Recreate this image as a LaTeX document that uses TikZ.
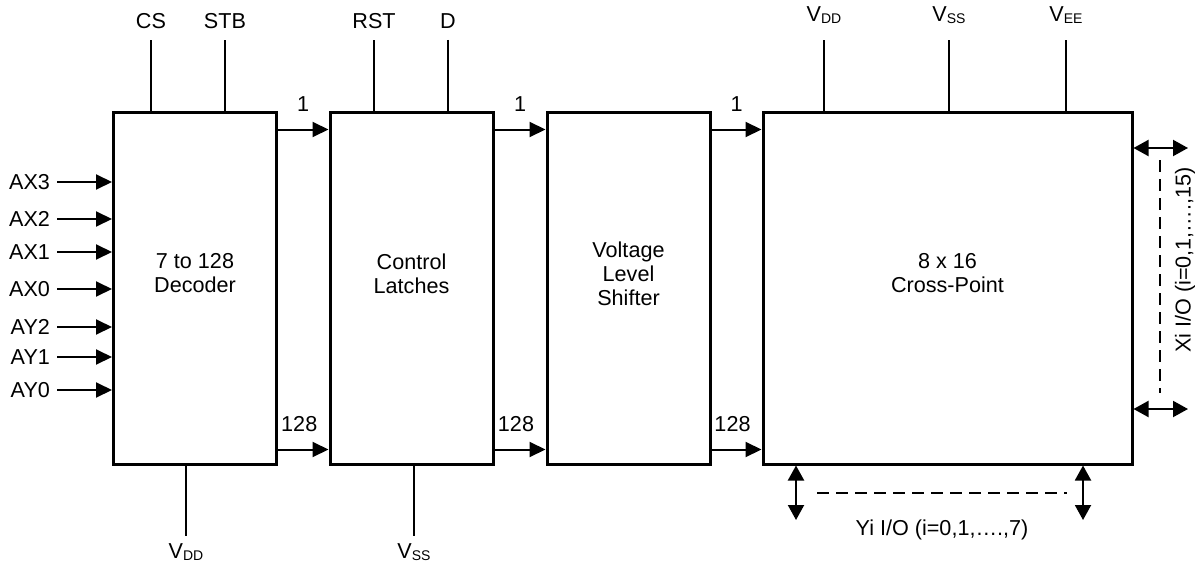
\documentclass[tikz,border=0pt]{standalone}
\usepackage{fontspec}
\setmainfont{Liberation Sans}
\usetikzlibrary{arrows.meta,positioning,calc}
\newcommand{\vpin}[1]{V\raisebox{-1pt}{\fontsize{7}{8}\selectfont #1}}

\begin{document}
\begin{tikzpicture}[x=0.5pt, y=-0.5pt, font=\fontsize{10.8}{12}\selectfont,
  block/.style={draw, line width=1.5pt, minimum width=81.5pt, minimum height=175.5pt},
  arrow/.style={-{Triangle[length=8pt,width=7.5pt]}, line width=1pt},
  biarrow/.style={{Triangle[length=7.5pt,width=8pt]}-{Triangle[length=7.5pt,width=8pt]}, line width=1pt},
  pin/.style={line width=1pt},
  bus/.style={dash pattern=on 6pt off 3.5pt, line width=1pt}]
\useasboundingbox (0,0) rectangle (1198,567);
% blocks
\node[block] (dec) at (195,288.5) {};
\node[block] (lat) at (411.5,288.5) {};
\node[block] (vls) at (628.5,288.5) {};
\node[block, minimum width=184.5pt] (xpt) at (947.5,288.5) {};
\node[align=center] (dectxt) at ([yshift=7.5pt]dec.center) {7 to 128\\Decoder};
\node[align=center] (lattxt) at ([yshift=7.5pt]lat.center) {Control\\Latches};
\node[align=center] (vlstxt) at ([yshift=7.5pt]vls.center) {Voltage\\Level\\Shifter};
\node[align=center] (xpttxt) at ([yshift=7.5pt]xpt.center) {8 x 16\\Cross-Point};
% address inputs
\foreach \name/\y in {AX3/182, AX2/219, AX1/252, AX0/289, AY2/327, AY1/357, AY0/390} {
  \node[anchor=east] (\name) at (57,\y) {\name};
  \draw[arrow] (\name.east) -- (\name.east -| dec.west);
}
% control pins
\node (cs) at (151,21) {CS};
\node (stb) at (225,21) {STB};
\node (rst) at (374,21) {RST};
\node (d) at (448,21) {D};
\draw[pin, shorten <=2.2pt] (cs.south) -- (cs.south |- dec.north);
\draw[pin, shorten <=2.2pt] (stb.south) -- (stb.south |- dec.north);
\draw[pin, shorten <=2.2pt] (rst.south) -- (rst.south |- lat.north);
\draw[pin, shorten <=2.2pt] (d.south) -- (d.south |- lat.north);
% supply pins
\node[anchor=base] (vddx) at (824,22) {\vpin{DD}};
\node[anchor=base] (vssx) at (949,22) {\vpin{SS}};
\node[anchor=base] (veex) at (1066,22) {\vpin{EE}};
\foreach \p in {vddx, vssx, veex}
  \draw[pin, shorten <=4.6pt] (\p.south) -- (\p.south |- xpt.north);
\node[anchor=base] (vddd) at (186,558) {\vpin{DD}};
\node[anchor=base] (vssl) at (414,558) {\vpin{SS}};
\draw[pin] (vddd.north |- dec.south) -- (vddd.north);
\draw[pin] (vssl.north |- lat.south) -- (vssl.north);
% data paths
\draw[arrow] ([yshift=-9pt]dec.north east) -- node[above=5pt] {1} ([yshift=-9pt]lat.north west);
\draw[arrow] ([yshift=-9pt]lat.north east) -- node[above=5pt] {1} ([yshift=-9pt]vls.north west);
\draw[arrow] ([yshift=-9pt]vls.north east) -- node[above=5pt] {1} ([yshift=-9pt]xpt.north west);
\draw[arrow] ([yshift=8pt]dec.south east) -- node[above=5pt, xshift=-2pt] {128} ([yshift=8pt]lat.south west);
\draw[arrow] ([yshift=8pt]lat.south east) -- node[above=5pt, xshift=-2pt] {128} ([yshift=8pt]vls.south west);
\draw[arrow] ([yshift=8pt]vls.south east) -- node[above=5pt, xshift=-2pt] {128} ([yshift=8pt]xpt.south west);
% X i/o
\coordinate (xa) at (1188,148);
\coordinate (xb) at (1188,409);
\draw[biarrow] (xa -| xpt.east) -- (xa);
\draw[biarrow] (xb -| xpt.east) -- (xb);
\coordinate (xd1) at (1160,160);
\coordinate (xd2) at (1160,393);
\draw[bus] (xd1) -- (xd2);
\node[rotate=90] (xio) at (1185,260) {Xi I/O (i=0,1,….,15)};
% Y i/o
\coordinate (ya) at (796,520);
\coordinate (yb) at (1083,520);
\draw[biarrow] (ya |- xpt.south) -- (ya);
\draw[biarrow] (yb |- xpt.south) -- (yb);
\coordinate (yd1) at (817,493);
\coordinate (yd2) at (1067,493);
\draw[bus] (yd1) -- (yd2);
\node (yio) at (942,530) {Yi I/O (i=0,1,….,7)};
\end{tikzpicture}
\end{document}
